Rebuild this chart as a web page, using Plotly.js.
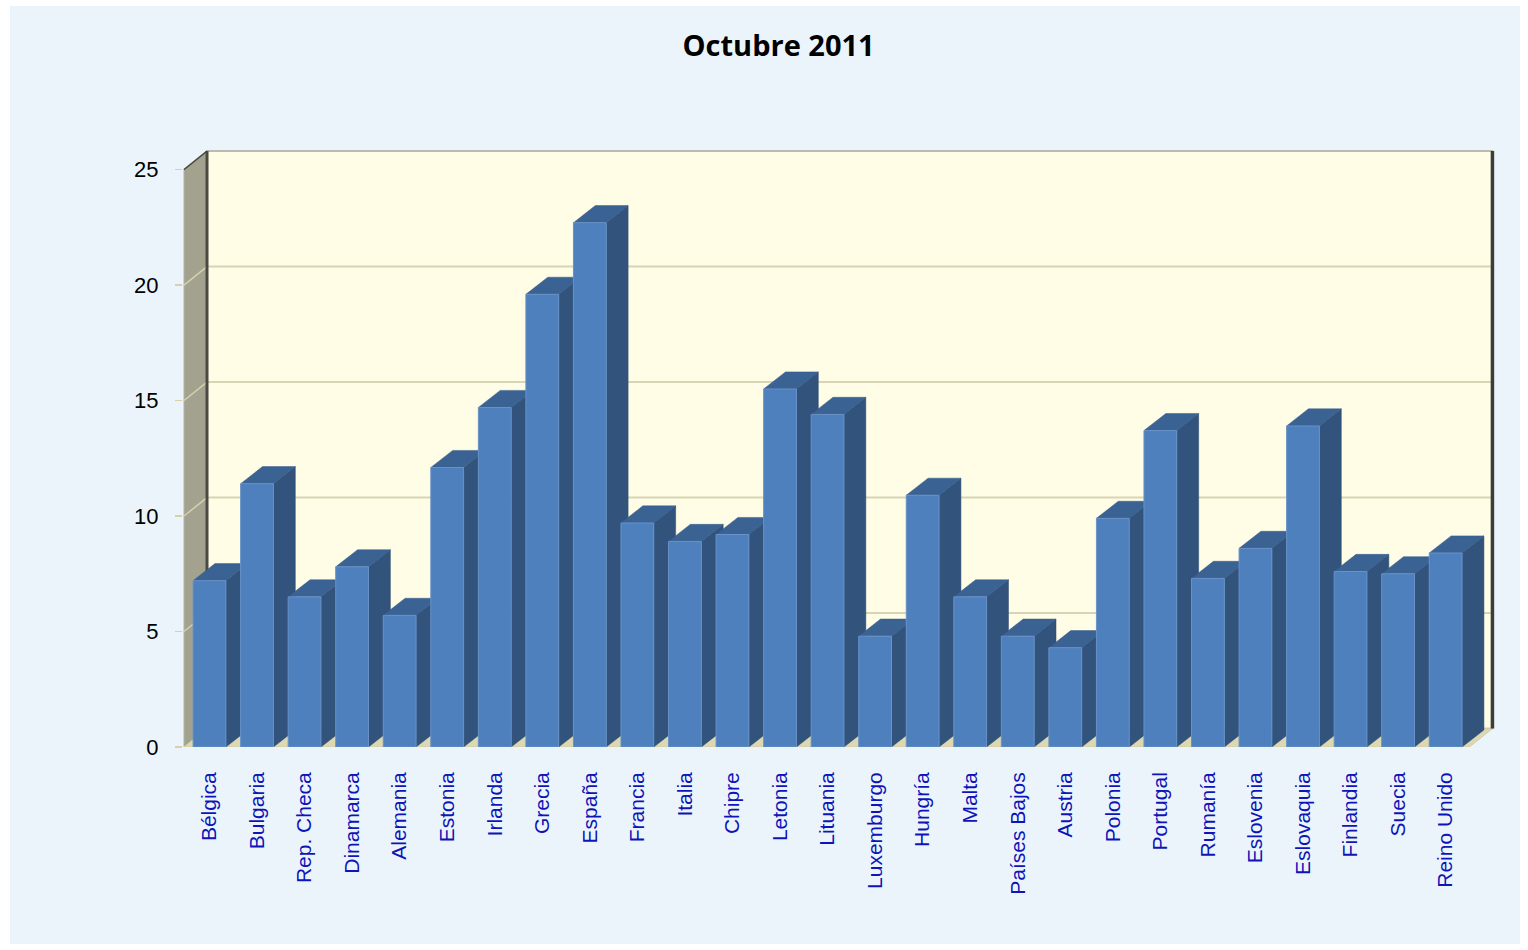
<!DOCTYPE html>
<html>
<head>
<meta charset="utf-8">
<script src="https://cdn.plot.ly/plotly-3.0.1.min.js"></script>
<style>
  html, body { margin:0; padding:0; background:#ffffff; }
  #chart { position:absolute; left:10px; top:6px; width:1510px; height:938px; }
</style>
</head>
<body>
<div id="chart"></div>
<script>
// ---- Data ----
const categories = ["Bélgica","Bulgaria","Rep. Checa","Dinamarca","Alemania","Estonia","Irlanda","Grecia","España","Francia","Italia","Chipre","Letonia","Lituania","Luxemburgo","Hungría","Malta","Países Bajos","Austria","Polonia","Portugal","Rumanía","Eslovenia","Eslovaquia","Finlandia","Suecia","Reino Unido"];
const values = [7.2, 11.4, 6.5, 7.8, 5.7, 12.1, 14.7, 19.6, 22.7, 9.7, 8.9, 9.2, 15.5, 14.4, 4.8, 10.9, 6.5, 4.8, 4.3, 9.9, 13.7, 7.3, 8.6, 13.9, 7.6, 7.5, 8.4];
const yTicks = [0, 5, 10, 15, 20, 25];
const titleText = "Octubre 2011";

// ---- 3D look parameters (in axis units) ----
const idx = categories.map((c, i) => i);
const barW = 0.69;
const bdx = 0.46, bdy = 0.74;     // bar depth offset
const wdx = 0.484, wdy = 0.80;    // wall depth offset
const x0 = -0.536, x1 = 26.5;     // floor front edge
const yMax = 25;

function path(pts) {
  return "M" + pts.map(p => p[0] + "," + p[1]).join(" L") + " Z";
}

const shapes = [];
// back wall
shapes.push({type:"path", layer:"below", xref:"x", yref:"y",
  path: path([[x0+wdx, wdy],[x1+wdx, wdy],[x1+wdx, yMax+wdy],[x0+wdx, yMax+wdy]]),
  fillcolor:"#fffde6", line:{color:"#a8a898", width:1.5}});
// left wall
shapes.push({type:"path", layer:"below", xref:"x", yref:"y",
  path: path([[x0, 0],[x0+wdx, wdy],[x0+wdx, yMax+wdy],[x0, yMax]]),
  fillcolor:"#a2a28e", line:{color:"#b4b4a6", width:1}});
// floor
shapes.push({type:"path", layer:"below", xref:"x", yref:"y",
  path: path([[x0, 0],[x1, 0],[x1+wdx, wdy],[x0+wdx, wdy]]),
  fillcolor:"#dcd8b2", line:{color:"#d2cca6", width:1}});
// gridlines on back wall and left wall
yTicks.forEach(v => {
  if (v === 0) return;
  if (v < yMax) {
    shapes.push({type:"line", layer:"below", xref:"x", yref:"y",
      x0:x0+wdx, x1:x1+wdx, y0:v+wdy, y1:v+wdy, line:{color:"#d8d4b6", width:2}});
  }
  shapes.push({type:"line", layer:"below", xref:"x", yref:"y",
    x0:x0, x1:x0+wdx, y0:v, y1:v+wdy, line:{color:"#d6d0b0", width:1.5}});
});
// dark edges
shapes.push({type:"line", layer:"below", xref:"x", yref:"y",
  x0:x0+wdx, x1:x0+wdx, y0:wdy, y1:yMax+wdy, line:{color:"#4a4a44", width:3}});
shapes.push({type:"line", layer:"below", xref:"x", yref:"y",
  x0:x1+wdx, x1:x1+wdx, y0:wdy, y1:yMax+wdy, line:{color:"#3c3c38", width:3.5}});
shapes.push({type:"line", layer:"below", xref:"x", yref:"y",
  x0:x0, x1:x0+wdx, y0:yMax, y1:yMax+wdy, line:{color:"#4a4a44", width:1.5}});

// bar side & top faces computed from data
idx.forEach(i => {
  const v = values[i];
  const l = i - barW/2, r = i + barW/2;
  shapes.push({type:"path", layer:"below", xref:"x", yref:"y",
    path: path([[r, 0],[r, v],[r+bdx, v+bdy],[r+bdx, bdy]]),
    fillcolor:"#31537c", line:{color:"#2d4c72", width:0.5}});
  shapes.push({type:"path", layer:"below", xref:"x", yref:"y",
    path: path([[l, v],[r, v],[r+bdx, v+bdy],[l+bdx, v+bdy]]),
    fillcolor:"#3a6394", line:{color:"#35598a", width:0.5}});
});

const trace = {
  type:"bar",
  x: idx,
  y: values,
  width: barW,
  marker:{color:"#4e80bd", line:{color:"#6892c8", width:1}},
  hovertemplate:"%{text}: %{y}<extra></extra>",
  text: categories,
  textposition:"none"
};

const layout = {
  width:1510, height:938,
  margin:{l:173, r:23, t:134, b:197},
  paper_bgcolor:"#ecf4fb",
  plot_bgcolor:"rgba(0,0,0,0)",
  showlegend:false,
  title:{text:titleText, x:0.509, xref:"container", xanchor:"center",
         y:0.957, yref:"container", yanchor:"middle",
         font:{family:"Open Sans, sans-serif", size:29, color:"#000000", weight:"bold"}},
  xaxis:{
    range:[-0.557, 27.08],
    tickmode:"array", tickvals: idx, ticktext: categories,
    tickangle:-90, ticks:"", ticklabelstandoff:20,
    tickfont:{family:"Liberation Sans, Arial, sans-serif", size:21, color:"#0d14b8"},
    showgrid:false, zeroline:false, showline:false, fixedrange:true
  },
  yaxis:{
    range:[0, 26.28],
    tickmode:"array", tickvals: yTicks,
    ticks:"outside", ticklen:7, tickcolor:"#dccfa8", tickwidth:1.5,
    ticklabelstandoff:12,
    tickfont:{family:"Liberation Sans, Arial, sans-serif", size:22, color:"#000000"},
    showgrid:false, zeroline:false, showline:false,
    fixedrange:true
  },
  shapes: shapes
};

Plotly.newPlot("chart", [trace], layout, {displayModeBar:false, staticPlot:true});
</script>
</body>
</html>
